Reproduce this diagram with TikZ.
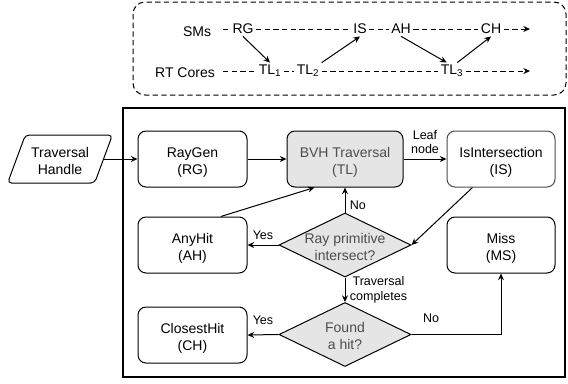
\documentclass[tikz,border=0pt]{standalone}
\usepackage{fontspec}
\setmainfont{Liberation Sans}
\usetikzlibrary{shapes.geometric,arrows.meta}

\tikzset{every picture/.style={line width=0.75pt}}
\tikzset{
	proc/.style={draw, rounded corners=6pt, minimum width=81.75pt, minimum height=42pt, align=center, font=\fontsize{10.5}{12.5}\selectfont},
	grayproc/.style={proc, fill=black!10, text=black!70},
	decision/.style={draw, diamond, fill=black!10, text=black!70, inner sep=0pt, minimum width=99pt, minimum height=48pt, font=\fontsize{10.5}{12.5}\selectfont},
	lbl/.style={align=center, font=\fontsize{9.4}{11}\selectfont},
	tag/.style={inner sep=1.5pt, font=\fontsize{10.5}{12.5}\selectfont},
	arr/.style={-{Stealth[length=5pt,width=4.5pt]}},
	dashline/.style={dash pattern=on 4pt off 2.5pt}
}
% two lines of text, set a little low as in the drawing
\newcommand{\ntext}[1]{\raisebox{-2.5pt}[\height][\depth]{\begin{tabular}{@{}c@{}}#1\end{tabular}}}
\newcommand{\dtext}[1]{\makebox[0pt]{\ntext{#1}}}

\begin{document}
\begin{tikzpicture}[x=0.75pt,y=0.75pt,yscale=-1,xscale=1]
	\useasboundingbox (0,0) rectangle (568,383);

	%Rounded Rect (dashed timeline frame)
	\draw [dashline, rounded corners=9pt] (133,2) rectangle (566,95);
	%Shape: Rectangle (main frame)
	\draw [line width=1.2pt] (123,108) rectangle (565,377);

	% Text Node
	\node [tag] (sms) at (197,32) {SMs};
	% Text Node
	\node [tag] (rtc) at (185,73) {RT Cores};
	\coordinate (s0) at (223,29);
	\coordinate (s1) at (530,29);
	\coordinate (t0) at (223,71);
	\coordinate (t1) at (530,71);
	% Text Node
	\node [tag] (rg) at (243,29) {RG};
	\node [tag] (is) at (360,29) {IS};
	\node [tag] (ah) at (401,29) {AH};
	\node [tag] (ch) at (491,29) {CH};
	% Text Node
	\node [tag] (tl1) at (270,71) {TL\textsubscript{1}};
	\node [tag] (tl2) at (308,71) {TL\textsubscript{2}};
	\node [tag] (tl3) at (452,71) {TL\textsubscript{3}};

	%Dashed Lines
	\draw [dashline, arr] (s0) -- (rg) -- (is) -- (ah) -- (ch) -- (s1);
	\draw [dashline, arr] (t0) -- (tl1) -- (tl2) -- (tl3) -- (t1);
	%Straight Lines
	\draw [arr] (rg.south) -- (tl1.north);
	\draw [arr] (tl2.north east) -- (is.south);
	\draw [arr] (ah.south) -- ([xshift=-4pt]tl3.north);
	\draw [arr] ([xshift=4pt]tl3.north) -- (ch.south);

	%Shape: Parallelogram
	\node [draw, trapezium, trapezium left angle=68, trapezium right angle=112, trapezium stretches=true, rounded corners=3pt, minimum width=78.75pt, minimum height=36pt, font=\fontsize{10.5}{12.5}\selectfont] (handle) at (60,159) {\ntext{Traversal\\Handle}};
	%Shape: Rounded Rect
	\node [proc] (raygen) at (192.5,159) {\ntext{RayGen\\(RG)}};
	\node [grayproc, minimum width=87pt] (bvh) at (345,159) {\ntext{BVH Traversal\\(TL)}};
	\node [proc, draw=black!70, minimum width=81pt] (isect) at (501,159) {\ntext{IsIntersection\\(IS)}};
	\node [proc] (anyhit) at (192.5,245) {\ntext{AnyHit\\(AH)}};
	\node [proc, minimum width=81pt] (miss) at (501,245) {\ntext{Miss\\(MS)}};
	\node [proc] (closest) at (192.5,335) {\ntext{ClosestHit\\(CH)}};
	%Shape: Diamond
	\node [decision] (prim) at (345,245) {\dtext{Ray primitive\\intersect?}};
	\node [decision] (found) at (345,334.5) {\dtext{Found\\a hit?}};

	%Straight Lines
	\draw [arr] (handle) -- (raygen);
	\draw [arr] (raygen) -- (bvh);
	\draw [arr] (bvh) -- node [lbl, above] (leaf) {Leaf\\node} (isect);
	\draw [arr] ([xshift=19.5pt]isect.south west) -- (prim.east);
	\draw [arr] (prim.north) -- node [lbl, right, pos=0.3] (no1) {No} (bvh.south);
	\draw [arr] (prim.west) -- node [lbl, above] (yes1) {Yes} (anyhit.east);
	\draw [arr] ([xshift=-20pt]anyhit.north east) -- ([xshift=21pt]bvh.south west);
	\draw [arr] (prim.south) -- node [lbl, right] (done) {Traversal\\completes} (found.north);
	\draw [arr] (found.west) -- node [lbl, above=4pt] (yes2) {Yes} (closest.east);
	\draw [arr] (found.east) -| node [lbl, pos=0.11, above=5pt] (no2) {No} (miss.south);

\end{tikzpicture}
\end{document}
